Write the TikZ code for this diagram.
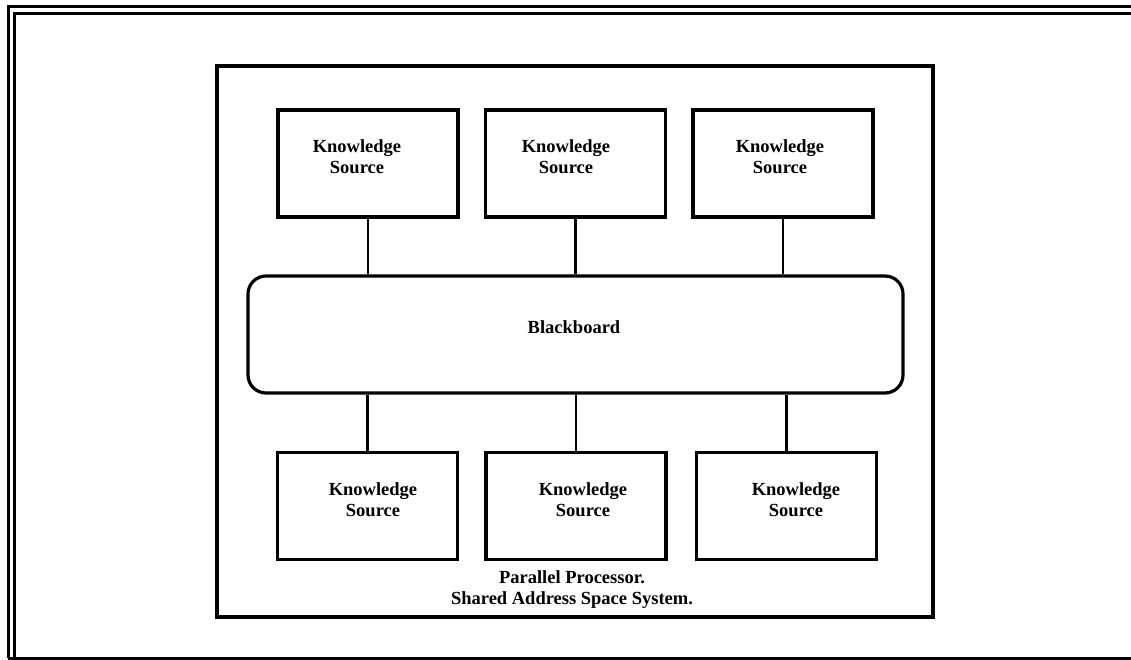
\documentclass[tikz,border=0pt]{standalone}
\usepackage{fontspec}
\setmainfont{Liberation Serif}
\begin{document}
\begin{tikzpicture}[x=1pt,y=-1pt,
  ksbox/.style={draw,line width=3.4pt,minimum width=180pt,minimum height=107pt,inner sep=0pt},
  kstext/.style={align=center,inner sep=0pt,font=\fontsize{18.5}{21}\selectfont\bfseries},
  bbbox/.style={draw,line width=3.2pt,rounded corners=18pt,minimum width=655pt,minimum height=117pt,inner sep=0pt},
  procbox/.style={draw,line width=3.4pt,minimum width=716pt,minimum height=551pt,inner sep=0pt},
  conn/.style={line width=2.5pt},
  framerule/.style={line width=3pt}]
\useasboundingbox (0,0) rectangle (1131,660);
% outer frame
\draw[framerule] (8,658) -- (8,7) -- (1131,7);
\draw[framerule] (1131,13.5) -- (14.5,13.5) -- (14.5,658);
\draw[framerule] (8,658) -- (1131,658);
% processor frame
\node[procbox] (proc) at (575,341.5) {};
% top knowledge sources
\node[ksbox] (k1) at (368,163.5) {};
\node[ksbox] (k2) at (575.5,163.5) {};
\node[ksbox] (k3) at (783,163.5) {};
\node[kstext] (t1) at (357,157) {Knowledge\\Source};
\node[kstext] (t2) at (566,157) {Knowledge\\Source};
\node[kstext] (t3) at (780,157) {Knowledge\\Source};
% blackboard
\node[bbbox] (bb) at (575.5,334.5) {};
\node[kstext] (bbt) at (574,327) {Blackboard};
% bottom knowledge sources
\node[ksbox] (k4) at (367.5,506) {};
\node[ksbox] (k5) at (576,506) {};
\node[ksbox] (k6) at (786.5,506) {};
\node[kstext] (t4) at (373,500) {Knowledge\\Source};
\node[kstext] (t5) at (583,500) {Knowledge\\Source};
\node[kstext] (t6) at (796,500) {Knowledge\\Source};
% caption
\node[kstext] (cap) at (572,590) {Parallel Processor.\\Shared Address Space System.};
% connectors
\draw[conn] (k1.south) -- (k1.south |- bb.north);
\draw[conn] (k2.south) -- (k2.south |- bb.north);
\draw[conn] (k3.south) -- (k3.south |- bb.north);
\draw[conn] (k4.north) -- (k4.north |- bb.south);
\draw[conn] (k5.north) -- (k5.north |- bb.south);
\draw[conn] (k6.north) -- (k6.north |- bb.south);
\end{tikzpicture}
\end{document}
